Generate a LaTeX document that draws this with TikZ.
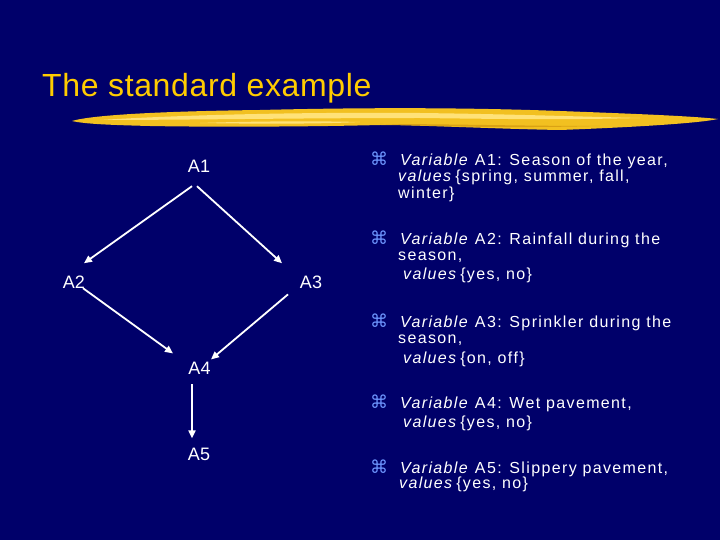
\documentclass[tikz,border=0pt]{standalone}
\usepackage{fontspec}
\setmainfont{Liberation Sans}
\newfontfamily\symf{DejaVu Sans}
\newfontfamily\bodyf[LetterSpace=8.5]{Liberation Sans}
\newfontfamily\titlef[LetterSpace=2]{Liberation Sans}
\usetikzlibrary{arrows.meta}
\definecolor{bg}{RGB}{0,0,106}
\definecolor{gold}{RGB}{255,204,0}
\definecolor{brush}{RGB}{242,192,32}
\definecolor{brushlight}{RGB}{255,226,120}
\definecolor{brushdark}{RGB}{218,162,20}
\definecolor{bulletblue}{RGB}{110,150,255}
\tikzset{
  lbl/.style={anchor=base, inner sep=0pt, text=white, font=\fontsize{18}{21}\selectfont},
  arr/.style={draw=white, line width=1.8pt, -{Triangle[length=8pt,width=7pt]}},
  bul/.style={anchor=base, inner sep=0pt, text=bulletblue, font=\symf\fontsize{18}{20}\selectfont},
  txt/.style={anchor=base west, inner sep=0pt, text=white, font=\bodyf\fontsize{16}{19}\selectfont},
}
\newcommand{\var}{\textit{Variable}}
\newcommand{\vals}{\textit{values}}
\begin{document}
\begin{tikzpicture}[x=1pt,y=-1pt]
\fill[bg] (0,0) rectangle (720,540);
\useasboundingbox (0,0) rectangle (720,540);

% title
\node[anchor=base west, inner sep=0pt, text=gold, font=\titlef\fontsize{32}{36}\selectfont] (title) at (42,97) {The standard example};

% brush stroke
\fill[brush] (72,121) .. controls (95,114) and (180,111) .. (260,110)
  .. controls (380,107) and (480,108) .. (560,111)
  .. controls (640,114) and (690,116) .. (718,119)
  .. controls (700,123) and (640,127) .. (560,130)
  .. controls (500,129) and (420,125) .. (380,125)
  .. controls (300,127) and (200,127) .. (150,126)
  .. controls (110,125) and (85,124) .. (72,121) -- cycle;
\fill[brushlight] (100,120) .. controls (180,115) and (300,112) .. (420,113)
  .. controls (500,114) and (560,116) .. (640,118)
  .. controls (560,120) and (500,119) .. (420,118)
  .. controls (300,118) and (180,120) .. (100,120) -- cycle;
\fill[brushlight] (200,123) .. controls (260,121) and (320,121) .. (360,122)
  .. controls (320,124) and (260,124) .. (200,123) -- cycle;
\fill[brushdark] (380,124) .. controls (450,124) and (520,126) .. (600,126)
  .. controls (520,128) and (450,127) .. (380,124) -- cycle;

% graph
\node[lbl] (A1) at (199,173) {A1};
\node[lbl] (A2) at (74,288) {A2};
\node[lbl] (A3) at (311,288) {A3};
\node[lbl] (A4) at (199.5,374) {A4};
\node[lbl] (A5) at (199,460) {A5};

\draw[arr] ([xshift=-7pt,yshift=-13pt]A1.south) -- ([xshift=10pt,yshift=12pt]A2.north);
\draw[arr] ([xshift=-2pt,yshift=-13pt]A1.south) -- ([xshift=-29pt,yshift=12pt]A3.north);
\draw[arr] ([xshift=9pt,yshift=0pt]A2.south) -- ([xshift=-26.5pt,yshift=8pt]A4.north);
\draw[arr] ([xshift=-23pt,yshift=-6pt]A3.south) -- ([xshift=11.5pt,yshift=2pt]A4.north);
\draw[arr] ([xshift=-7.5pt,yshift=-10pt]A4.south) -- ([xshift=-7pt,yshift=9pt]A5.north);

% bullets and text
\node[bul] (b1) at (379,166) {⌘};
\node[txt] (t1a) at (400,166) {\var{} A1: Season of the year,};
\node[txt] (t1b) at (398,182) {\vals\,\{spring, summer, fall,};
\node[txt] (t1c) at (398,199) {winter\}};

\node[bul] (b2) at (379,244) {⌘};
\node[txt] (t2a) at (400,244) {\var{} A2: Rainfall during the};
\node[txt] (t2b) at (398,260) {season,};
\node[txt] (t2c) at (403,279) {\vals\,\{yes, no\}};

\node[bul] (b3) at (379,327) {⌘};
\node[txt] (t3a) at (400,327) {\var{} A3: Sprinkler during the};
\node[txt] (t3b) at (398,343) {season,};
\node[txt] (t3c) at (403,363) {\vals\,\{on, off\}};

\node[bul] (b4) at (379,408) {⌘};
\node[txt] (t4a) at (400,408) {\var{} A4: Wet pavement,};
\node[txt] (t4b) at (403,427) {\vals\,\{yes, no\}};

\node[bul] (b5) at (379,473) {⌘};
\node[txt] (t5a) at (400,473) {\var{} A5: Slippery pavement,};
\node[txt] (t5b) at (399,488) {\vals\,\{yes, no\}};
\end{tikzpicture}
\end{document}
